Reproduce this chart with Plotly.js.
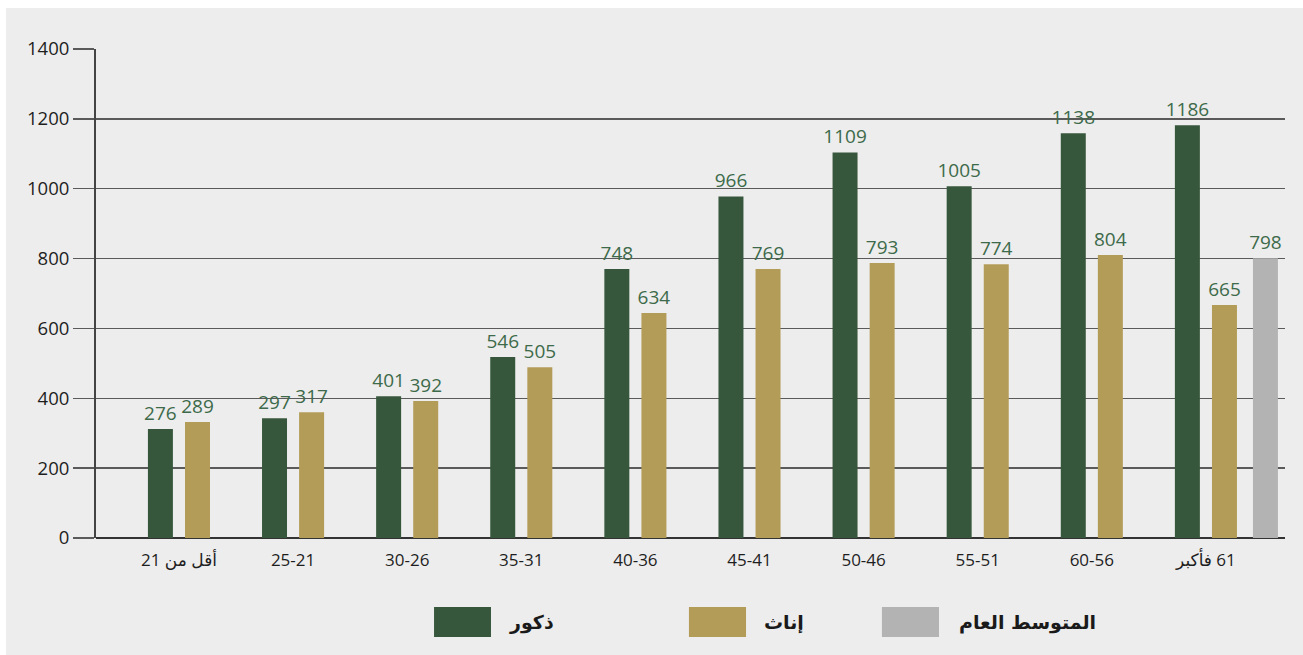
<!DOCTYPE html>
<html>
<head>
<meta charset="utf-8">
<script src="https://cdn.plot.ly/plotly-3.0.1.min.js"></script>
<style>
  html, body { margin: 0; padding: 0; background: #ffffff; }
  #chart { position: absolute; left: 6px; top: 8px; width: 1297px; height: 647px; }
</style>
</head>
<body>
<div id="chart"></div>
<script>
// Category tick labels (RLM prefix keeps right-to-left ordering)
const categories = ["أقل من 21", "25-21", "30-26", "35-31", "40-36", "45-41", "50-46", "55-51", "60-56", "61 فأكبر"];
const categoryLabels = categories.map(c => "\u200F" + c);

// Bar heights as drawn in the picture
const maleHeights   = [312, 343, 406, 518, 770, 978, 1104, 1007, 1159, 1182];
const femaleHeights = [332, 360, 392, 489, 644, 770, 787, 784, 810, 667];
const avgHeights    = [801];

// Value labels as printed
const maleLabels   = ["276", "297", "401", "546", "748", "966", "1109", "1005", "1138", "1186"];
const femaleLabels = ["289", "317", "392", "505", "634", "769", "793", "774", "804", "665"];
const avgLabels    = ["798"];

const seriesNames = ["ذكور", "إناث", "المتوسط العام"];
const colors = ["#37573c", "#b39c58", "#b3b3b3"];
const labelColor = "#3d6a4a";
const idx = categories.map((_, i) => i);

const labelFont = { family: "Open Sans, DejaVu Sans, sans-serif", size: 19, color: labelColor };

const traces = [
  {
    type: "bar", name: seriesNames[0], x: idx, y: maleHeights,
    text: maleLabels, textposition: "outside", textfont: labelFont, cliponaxis: false,
    marker: { color: colors[0] }, offset: -0.272, width: 0.219, hoverinfo: "skip"
  },
  {
    type: "bar", name: seriesNames[1], x: idx, y: femaleHeights,
    text: femaleLabels, textposition: "outside", textfont: labelFont, cliponaxis: false,
    marker: { color: colors[1] }, offset: 0.053, width: 0.219, hoverinfo: "skip"
  },
  {
    type: "bar", name: seriesNames[2], x: [idx[idx.length - 1]], y: avgHeights,
    text: avgLabels, textposition: "outside", textfont: labelFont, cliponaxis: false,
    marker: { color: colors[2] }, offset: 0.412, width: 0.219, hoverinfo: "skip"
  }
];

// Legend drawn as shapes + annotations (paper coords of plot area)
const legendSwatchX = [[0.2843, 0.3322], [0.4987, 0.5467], [0.6610, 0.7090]];
const legendTextX = [0.3457, 0.5601, 0.7241];
const shapes = legendSwatchX.map((sx, i) => ({
  type: "rect", xref: "paper", yref: "paper",
  x0: sx[0], x1: sx[1], y0: -0.1411, y1: -0.2025,
  fillcolor: colors[i], line: { width: 0 }
}));
const annotations = seriesNames.map((n, i) => ({
  xref: "paper", yref: "paper", x: legendTextX[i], y: -0.1718,
  xanchor: "left", yanchor: "middle", showarrow: false,
  text: "<b>" + n + "</b>",
  font: { family: "DejaVu Sans, sans-serif", size: 19, color: "#1a1a1a" }
}));

const layout = {
  width: 1297, height: 647,
  paper_bgcolor: "#ededed", plot_bgcolor: "#ededed",
  margin: { l: 90, r: 18, t: 41, b: 117 },
  barmode: "overlay",
  uniformtext: { mode: false },
  showlegend: false,
  font: { family: "Open Sans, DejaVu Sans, sans-serif" },
  xaxis: {
    type: "linear", range: [-0.727, 9.693],
    tickmode: "array", tickvals: idx, ticktext: categoryLabels,
    showgrid: false, zeroline: false, showline: false,
    ticks: "", ticklabelstandoff: 10,
    tickfont: { family: "Open Sans, DejaVu Sans, sans-serif", size: 17, color: "#1e1e1e" }
  },
  yaxis: {
    range: [0, 1400], tickmode: "array", tickvals: [0, 200, 400, 600, 800, 1000, 1200, 1400],
    showgrid: true, gridcolor: "#5a5a5a", gridwidth: 1.5,
    zeroline: true, zerolinecolor: "#333333", zerolinewidth: 2.5,
    showline: true, linecolor: "#444444", linewidth: 2,
    ticks: "outside", ticklen: 21, tickwidth: 1.5, tickcolor: "#5a5a5a",
    tickfont: { family: "Open Sans, DejaVu Sans, sans-serif", size: 18.5, color: "#1e1e1e" }
  },
  shapes: shapes,
  annotations: annotations
};
traces.forEach(t => { t.constraintext = "none"; });

Plotly.newPlot("chart", traces, layout, { displayModeBar: false, staticPlot: true });
</script>
</body>
</html>
